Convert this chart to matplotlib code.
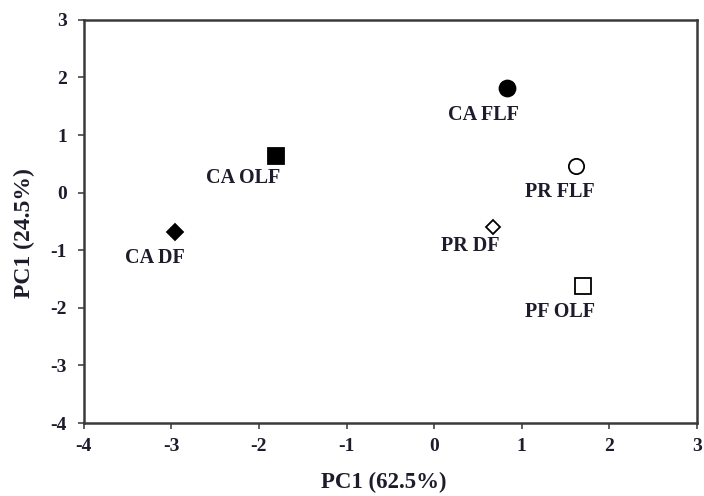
import matplotlib
matplotlib.use('Agg')
from matplotlib import pyplot as plt

# PCA scores
labels = ['CA FLF', 'CA OLF', 'CA DF', 'PR FLF', 'PR DF', 'PF OLF']
pc1 = [0.83, -1.81, -2.96, 1.62, 0.67, 1.70]
pc2 = [1.82, 0.64, -0.68, 0.47, -0.59, -1.62]
markers = ['o', 's', 'D', 'o', 'D', 's']
faces = ['black', 'black', 'black', 'white', 'white', 'white']
sizes = [11.5, 11.5, 8, 11, 7.5, 11.5]
# label offset (pixels) relative to the marker
offsets = [(-23, -27), (-32, -22), (-20, -26), (-16, -26), (-23, -19), (-23, -26)]

plt.rcParams['font.family'] = ['Liberation Serif', 'DejaVu Serif']
plt.rcParams['font.weight'] = 'bold'
plt.rcParams['axes.unicode_minus'] = False

fig = plt.figure(figsize=(7.04, 4.96), dpi=100)
ax = fig.add_axes([0.119, 0.147, 0.871, 0.813])

for x, y, m, fc, ms, lab, off in zip(pc1, pc2, markers, faces, sizes, labels, offsets):
    ax.plot(x, y, marker=m, ms=ms, mfc=fc, mec='black', mew=1.3, ls='none')
    ax.annotate(lab, (x, y), xytext=off, textcoords='offset pixels',
                ha='center', va='center', fontsize=14.5, fontweight='bold',
                color='#1c1c2c')

ax.set_xlim(-4, 3)
ax.set_ylim(-4, 3)
ax.set_xticks(range(-4, 4))
ax.set_yticks(range(-4, 4))
ax.tick_params(direction='out', length=4, width=1.2, color='#444',
               labelsize=14, labelcolor='#1c1c2c')
ax.tick_params(axis='x', pad=7)
ax.tick_params(axis='y', pad=8)
for lbl in ax.get_xticklabels() + ax.get_yticklabels():
    lbl.set_fontweight('bold')
for s in ax.spines.values():
    s.set_linewidth(1.8)
    s.set_color('#3a3a3a')

ax.set_xlabel('PC1 (62.5%)', fontsize=16.5, fontweight='bold', color='#1c1c2c')
ax.set_ylabel('PC1 (24.5%)', fontsize=17, fontweight='bold', color='#1c1c2c')
ax.xaxis.set_label_coords(0.49, -0.12)
ax.yaxis.set_label_coords(-0.08, 0.47)

plt.savefig('out.png', dpi=100)
